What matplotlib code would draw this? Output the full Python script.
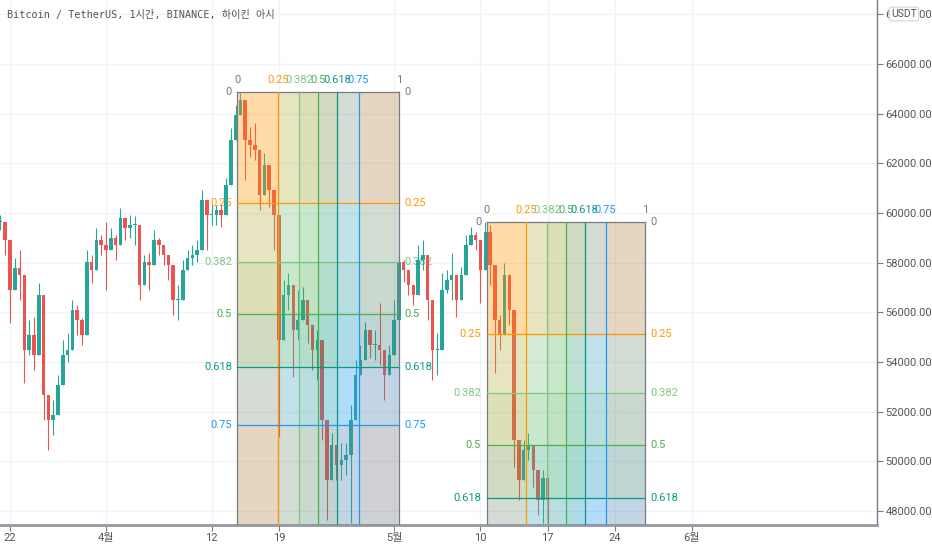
import numpy as np
import matplotlib
matplotlib.use('Agg')
import matplotlib.pyplot as plt
from matplotlib.patches import Rectangle

# 12h candles, starting 2021-03-21 00:00 (day -1 from Mar 22)
closes = [59640, 58910, 56900, 57790, 57510, 54490, 55090, 54290, 56700, 52680,
          51670, 51870, 53080, 54290, 54490, 56100, 55690, 55090, 58030, 57710,
          58910, 58710, 58510, 58990, 58710, 59800, 59400, 59520, 59520, 57100,
          58030, 57910, 58910, 58710, 58310, 57910, 56500, 56500, 57710, 58190,
          58310, 58510, 60520, 59920, 59920, 60120, 59920, 61130, 62940, 63940,
          64550, 62940, 62740, 62540, 60720, 61930, 60930, 59920, 54890, 56700,
          57100, 55290, 55690, 56500, 55490, 54490, 54890, 51670, 49260, 50660,
          49860, 50060, 50260, 51670, 53480, 54090, 55290, 54690, 54690, 54490,
          53480, 54290, 55690, 58030, 57710, 57100, 56700, 58110, 58310, 56500,
          54490, 54490, 56900, 57300, 57510, 56500, 57510, 58710, 59120, 58910,
          57710, 59240, 57910, 55690, 55090, 57510, 56100, 50870, 49260, 50460,
          50660, 49660, 48450, 49340, 48450]
highs = [59920, 59520, 58310, 58190, 58510, 56500, 55690, 55820, 57180, 55690,
         52680, 52480, 53480, 54890, 55170, 56500, 56300, 55780, 58510, 58310,
         59400, 59120, 59640, 59400, 59120, 60200, 59800, 59920, 59880, 58510,
         58310, 58390, 59320, 58990, 58710, 58310, 57300, 57100, 58110, 58510,
         58710, 58910, 60930, 60520, 60320, 60320, 60320, 61410, 63420, 64350,
         64830, 63460, 63460, 63620, 62130, 62410, 61530, 60800, 58510, 57300,
         57590, 56300, 56900, 57020, 55980, 55090, 55290, 53280, 50580, 51150,
         50460, 50750, 50750, 52270, 54090, 54690, 55610, 55290, 55290, 56380,
         54290, 54690, 56500, 58390, 58110, 57710, 57100, 58710, 58910, 57100,
         55290, 55170, 57590, 57710, 58390, 57100, 57830, 59120, 59440, 59240,
         58110, 59640, 59520, 56500, 55900, 57990, 56700, 55690, 50060, 50870,
         51150, 50260, 49060, 49660, 49140]
lows = [59320, 58310, 55570, 56900, 56500, 53160, 54290, 53680, 55690, 51670,
        50460, 51070, 52480, 53760, 54000, 55490, 55090, 54690, 57300, 57180,
        58310, 58310, 56900, 58510, 58110, 59120, 58910, 58990, 58710, 56500,
        57300, 56900, 58310, 58310, 57910, 57300, 55900, 55690, 56900, 57710,
        57910, 58030, 58910, 58510, 59520, 59520, 59440, 60520, 62540, 63340,
        63940, 61330, 62250, 62130, 60120, 61330, 60240, 58510, 50990, 55690,
        56100, 53400, 54890, 55900, 54770, 53680, 53280, 50870, 47650, 49940,
        49260, 49260, 49460, 47530, 52680, 53480, 54690, 54170, 54090, 53880,
        52480, 53880, 54290, 57300, 57220, 56700, 56300, 57100, 57710, 55690,
        53280, 53480, 56100, 56780, 56500, 55820, 57020, 58110, 58710, 58510,
        56380, 58910, 57100, 53560, 54490, 56900, 55490, 49780, 48450, 49860,
        50060, 48970, 47850, 47530, 47530]

# gann boxes: (start day, end day, top price, bottom price)
box_start = [23.68, 49.66]
box_end = [40.52, 66.15]
box_top = [64860, 59640]
box_bottom = [46990, 41640]
levels = [0, 0.25, 0.382, 0.5, 0.618, 0.75, 1]
level_labels = ['0', '0.25', '0.382', '0.5', '0.618', '0.75', '1']
level_colors = ['#787B86', '#FF9800', '#81C784', '#4CAF50', '#089981', '#2196F3', '#787B86']

xtick_pos = [0, 10, 21, 28, 40, 49, 56, 63, 71]
xtick_labels = ['22', '4월', '12', '19', '5월', '10', '17', '24', '6월']
ytick_pos = np.arange(48000, 68001, 2000)

txt = '#555555'
lab_font = ['Roboto', 'DejaVu Sans']
kr_font = ['Roboto', 'Noto Sans CJK KR']

fig = plt.figure(figsize=(9.32, 5.5), dpi=100)
ax = fig.add_axes([0, 25 / 550, 877 / 932, 525 / 550])
ax.set_xlim(-1.04, 90.3)
ax.set_ylim(47436, 68577)

# candles
t = -1 + 0.5 * np.arange(len(closes))
opens = [closes[0]] + closes[:-1]
for i in range(len(closes)):
    o, c = opens[i], closes[i]
    col = '#26A69A' if c >= o else '#EF5350'
    hi = max(highs[i], o, c)
    lo = min(lows[i], o, c)
    ax.vlines(t[i], lo, hi, color=col, lw=0.8, zorder=2)
    ax.bar(t[i], max(abs(c - o), 40), bottom=min(o, c), width=0.36,
           color=col, linewidth=0, zorder=2)

# gann boxes
for b in range(2):
    x0, x1 = box_start[b], box_end[b]
    top, bot = box_top[b], box_bottom[b]
    w = x1 - x0
    h = top - bot
    for j in range(1, len(levels)):
        # column band
        ax.add_patch(Rectangle((x0 + levels[j - 1] * w, bot), (levels[j] - levels[j - 1]) * w, h,
                               facecolor=level_colors[j], alpha=0.19, lw=0, zorder=3))
        # row band
        ax.add_patch(Rectangle((x0, top - levels[j] * h), w, (levels[j] - levels[j - 1]) * h,
                               facecolor=level_colors[j], alpha=0.19, lw=0, zorder=3))
    for j, lv in enumerate(levels):
        xx = x0 + lv * w
        yy = top - lv * h
        ax.plot([xx, xx], [bot, top], color=level_colors[j], lw=0.9, zorder=4)
        ax.plot([x0, x1], [yy, yy], color=level_colors[j], lw=0.9, zorder=4)
        ax.annotate(level_labels[j], (xx, top), xytext=(0, 8.5), textcoords='offset points',
                    ha='center', va='center', color=level_colors[j], fontsize=8,
                    family=lab_font, zorder=1.5)
        ax.annotate(level_labels[j], (x0, yy), xytext=(-4, 0), textcoords='offset points',
                    ha='right', va='center', color=level_colors[j], fontsize=8,
                    family=lab_font, zorder=1.5)
        ax.annotate(level_labels[j], (x1, yy), xytext=(4, 0), textcoords='offset points',
                    ha='left', va='center', color=level_colors[j], fontsize=8,
                    family=lab_font, zorder=1.5)

# axes styling
ax.set_xticks(xtick_pos)
ax.set_xticklabels(xtick_labels, family=kr_font, fontsize=8, color=txt)
ax.set_yticks(ytick_pos)
ax.set_yticklabels(['%.2f' % v for v in ytick_pos], family=lab_font, fontsize=8, color=txt)
ax.yaxis.tick_right()
ax.tick_params(axis='both', length=4, color='#787B86', width=0.8, pad=2)
ax.grid(True, color='#F0F3FA', lw=1, zorder=0)
ax.set_axisbelow(True)
for s in ['top', 'left']:
    ax.spines[s].set_visible(False)
ax.spines['right'].set_color('#787B86')
ax.spines['right'].set_linewidth(1)
ax.spines['bottom'].set_color('#9598A1')
ax.spines['bottom'].set_linewidth(2)

fig.text(7 / 932, 1 - 15 / 550, 'Bitcoin / TetherUS, 1시간, BINANCE, 하이킨 아시',
         family=['DejaVu Sans Mono', 'Noto Sans CJK KR'], fontsize=7.3, color=txt,
         ha='left', va='center')
fig.text(904 / 932, 1 - 14 / 550, 'USDT', family=lab_font, fontsize=7.5, color=txt,
         ha='center', va='center',
         bbox=dict(boxstyle='round,pad=0.18', fc='white', ec='#D1D4DC', lw=0.8))

fig.savefig('out.png', dpi=100)
